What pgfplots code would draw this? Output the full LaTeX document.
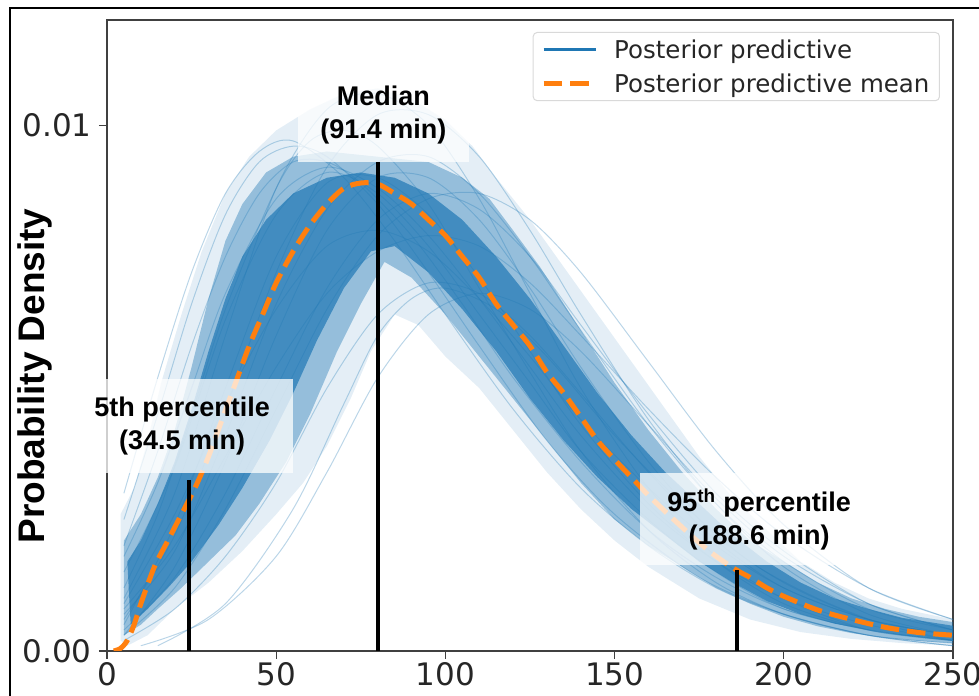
\documentclass[border=0pt]{standalone}
\usepackage{pgfplots}
\pgfplotsset{compat=1.18}
\usepackage{fontspec}
\setmainfont{DejaVu Sans}
\newfontfamily\annfont{Liberation Sans}
\definecolor{c0}{HTML}{1F77B4}
\definecolor{c1}{HTML}{FF7F0E}
\pgfplotsset{pp/.style={c0, opacity=0.3, line width=1bp, smooth, forget plot}}
\tikzset{ann/.style={fill=white, fill opacity=0.75, text opacity=1, inner sep=0pt, align=center,
  font=\annfont\bfseries\fontsize{27bp}{33bp}\selectfont}}
\begin{document}
\begin{tikzpicture}
\useasboundingbox (0,0) rectangle (979bp,696bp);
\draw[line width=2.5bp] (10bp,-10bp) -- (10bp,688bp) -- (995bp,688bp);
\begin{axis}[
  at={(107bp,45bp)}, anchor=south west, scale only axis,
  width=846bp, height=631bp,
  xmin=0, xmax=250, ymin=0, ymax=0.012,
  xtick={0,50,100,150,200,250},
  ytick={0,0.01}, yticklabels={0.00,0.01},
  scaled y ticks=false, scaled x ticks=false,
  xtick pos=left, ytick pos=left,
  tick align=outside, major tick length=8bp,
  tick style={black!75, line width=1.3bp},
  axis line style={black!75, line width=1.5bp},
  ticklabel style={font=\fontsize{31bp}{36bp}\selectfont, text=black!85},
  y tick label style={xshift=-4bp},
  /pgf/number format/assume math mode=true,
  legend style={at={(0.9846,0.981)}, anchor=north east, draw=black!15, rounded corners=4bp,
    fill=white, fill opacity=0.8, text opacity=1, font=\fontsize{24.5bp}{29bp}\selectfont,
    text=black!85, inner xsep=8bp, inner ysep=5bp, row sep=10bp, line width=1bp,
    /tikz/every odd column/.append style={column sep=14bp}},
  legend cell align=left,
  legend image code/.code={\draw[#1] (0bp,0bp) -- (52bp,0bp);},
]
\addlegendimage{c0, line width=2.5bp}
\addlegendentry{Posterior predictive}
% outer faint envelope
\addplot[fill=c0, fill opacity=0.12, draw=none, forget plot] coordinates {
(4,0.0026) (8,0.0031) (12,0.0040) (16,0.0051) (22,0.0064) (28,0.0076) (35,0.0087) (42,0.0094)
(50,0.0099) (60,0.0103) (70,0.0106) (80,0.0107) (90,0.0105) (100,0.0101) (108,0.0096) (115,0.0090)
(125,0.0082) (135,0.0073) (145,0.0064) (155,0.0055) (165,0.0046) (175,0.0037) (185,0.0029)
(195,0.0023) (205,0.0017) (215,0.0013) (225,0.0010) (235,0.0008) (250,0.0006)
(250,0.0001) (235,0.00015) (220,0.00023) (205,0.00036) (190,0.0006) (175,0.0010) (160,0.0016)
(150,0.0021) (140,0.0027) (130,0.0034) (120,0.0042) (110,0.0050) (100,0.0056) (92,0.0062)
(85,0.0064) (78,0.0057) (72,0.0048) (65,0.0039) (58,0.0032) (50,0.0026) (40,0.0019) (30,0.0013)
(20,0.0008) (12,0.0003) (6,0.0001) (4,0.0002)} -- cycle;
% mid envelope
\addplot[fill=c0, fill opacity=0.4, draw=none, forget plot] coordinates {
(5,0.0021) (10,0.0026) (15,0.0033) (20,0.0042) (25,0.0054) (30,0.0067) (35,0.0078) (40,0.0085)
(47,0.0091) (55,0.0094) (65,0.0095) (80,0.0094) (95,0.0093) (105,0.0090) (113,0.0086) (120,0.0080)
(128,0.0073) (135,0.0066) (142,0.0059) (150,0.0051) (160,0.0042) (170,0.0034) (180,0.0027)
(190,0.0021) (200,0.0017) (210,0.0013) (220,0.0010) (230,0.0008) (240,0.00065) (250,0.00055)
(250,0.00015) (240,0.00019) (230,0.00025) (220,0.00034) (210,0.00047) (200,0.00065) (190,0.0009)
(180,0.0012) (170,0.0016) (160,0.0020) (150,0.0025) (140,0.0032) (130,0.0040) (120,0.0048)
(110,0.0056) (100,0.0064) (90,0.0071) (82,0.0074) (75,0.0066) (68,0.0057) (60,0.0045) (53,0.0036)
(45,0.0028) (38,0.0022) (30,0.0017) (22,0.0012) (15,0.0008) (10,0.0005) (5,0.0003)} -- cycle;
% dense core
\addplot[fill=c0, fill opacity=0.7, draw=none, forget plot] coordinates {
(6,0.0017) (10,0.0021) (15,0.0028) (20,0.0036) (25,0.0046) (30,0.0057) (35,0.0067) (40,0.0075)
(47,0.0082) (55,0.0087) (65,0.0090) (75,0.0091) (85,0.0090) (95,0.0087) (105,0.0082) (115,0.0075)
(125,0.0067) (135,0.0058) (145,0.0049) (155,0.0041) (165,0.0034) (175,0.0028) (185,0.0022)
(195,0.0017) (205,0.0013) (215,0.0010) (225,0.0008) (235,0.00063) (250,0.00048)
(250,0.0002) (235,0.0003) (225,0.0004) (215,0.00052) (205,0.0007) (195,0.00095) (185,0.0013)
(175,0.0017) (165,0.0022) (155,0.0027) (145,0.0033) (135,0.0040) (125,0.0048) (115,0.0057)
(105,0.0065) (95,0.0072) (85,0.0077) (78,0.0076) (70,0.0069) (62,0.0059) (55,0.0049) (48,0.0040)
(40,0.0031) (33,0.0024) (25,0.0017) (18,0.0012) (12,0.0008) (7,0.0005)} -- cycle;
% individual posterior predictive curves
\addplot[pp] coordinates {(5,0.0025) (15,0.0045) (25,0.0066) (35,0.0083) (45,0.0093) (55,0.0096) (65,0.0094) (80,0.0085) (95,0.0072) (110,0.0058) (130,0.0040) (150,0.0026) (175,0.0014) (200,0.0007) (225,0.0003) (250,0.00015)};
\addplot[pp] coordinates {(5,0.0002) (20,0.0008) (35,0.0018) (50,0.0032) (65,0.0050) (80,0.0064) (95,0.0070) (110,0.0068) (125,0.0060) (140,0.0049) (160,0.0034) (180,0.0021) (200,0.0012) (225,0.0006) (250,0.0003)};
\addplot[pp] coordinates {(5,0.0010) (20,0.0030) (35,0.0060) (50,0.0088) (65,0.0103) (80,0.0106) (95,0.0100) (110,0.0086) (125,0.0068) (140,0.0050) (160,0.0031) (180,0.0018) (200,0.0010) (225,0.0004) (250,0.0002)};
\addplot[pp] coordinates {(5,0.0008) (20,0.0020) (35,0.0037) (50,0.0054) (65,0.0068) (80,0.0076) (95,0.0079) (110,0.0077) (125,0.0070) (140,0.0060) (160,0.0046) (180,0.0033) (200,0.0022) (225,0.0012) (250,0.0006)};
\addplot[pp] coordinates {(5,0.0005) (20,0.0024) (35,0.0050) (50,0.0075) (65,0.0089) (80,0.0090) (95,0.0083) (110,0.0071) (125,0.0057) (140,0.0043) (160,0.0028) (180,0.0017) (200,0.0009) (225,0.0004) (250,0.0002)};
\addplot[pp] coordinates {(5,0.0003) (20,0.0016) (35,0.0036) (50,0.0060) (65,0.0080) (80,0.0090) (95,0.0090) (110,0.0082) (125,0.0069) (140,0.0054) (160,0.0036) (180,0.0022) (200,0.0013) (225,0.0006) (250,0.0003)};
\addplot[pp] coordinates {(10,0.0001) (30,0.0006) (50,0.0018) (65,0.0034) (80,0.0052) (95,0.0064) (110,0.0068) (125,0.0065) (140,0.0057) (160,0.0043) (180,0.0029) (200,0.0018) (225,0.0009) (250,0.0004)};
\addplot[pp] coordinates {(5,0.0030) (15,0.0052) (25,0.0072) (35,0.0087) (45,0.0095) (55,0.0097) (70,0.0090) (85,0.0078) (100,0.0064) (120,0.0046) (140,0.0031) (160,0.0020) (180,0.0012) (200,0.0007) (225,0.0003) (250,0.0001)};
\addplot[pp] coordinates {(5,0.0006) (20,0.0022) (35,0.0046) (50,0.0072) (65,0.0092) (80,0.0102) (95,0.0102) (110,0.0094) (125,0.0080) (140,0.0064) (160,0.0044) (180,0.0028) (200,0.0016) (225,0.0007) (250,0.0003)};
\addplot[pp] coordinates {(5,0.0015) (20,0.0035) (35,0.0063) (50,0.0083) (65,0.0091) (80,0.0087) (95,0.0077) (110,0.0064) (125,0.0051) (140,0.0038) (160,0.0025) (180,0.0015) (200,0.0008) (225,0.0004) (250,0.0002)};
\addplot[pp] coordinates {(5,0.0020) (15,0.0038) (25,0.0058) (35,0.0075) (45,0.0087) (55,0.0093) (65,0.0093) (75,0.0089) (90,0.0079) (105,0.0066) (120,0.0052) (140,0.0036) (160,0.0023) (180,0.0014) (200,0.0008) (225,0.0004) (250,0.0002)};
\addplot[pp] coordinates {(5,0.0004) (20,0.0014) (35,0.0030) (50,0.0050) (65,0.0069) (80,0.0082) (95,0.0087) (110,0.0084) (125,0.0075) (140,0.0062) (160,0.0045) (180,0.0030) (200,0.0019) (225,0.0009) (250,0.0004)};
\addplot[pp] coordinates {(5,0.0003) (20,0.0012) (35,0.0027) (50,0.0046) (65,0.0065) (80,0.0079) (95,0.0086) (110,0.0087) (125,0.0082) (140,0.0072) (160,0.0055) (180,0.0038) (200,0.0024) (225,0.0012) (250,0.0006)};
\addplot[pp] coordinates {(5,0.0012) (15,0.0026) (25,0.0045) (35,0.0065) (50,0.0088) (60,0.0097) (70,0.0099) (80,0.0096) (95,0.0085) (110,0.0069) (125,0.0053) (140,0.0038) (160,0.0023) (180,0.0013) (200,0.0007) (225,0.0003) (250,0.0001)};
\addplot[pp] coordinates {(5,0.0018) (15,0.0032) (25,0.0050) (35,0.0068) (50,0.0086) (65,0.0092) (80,0.0088) (95,0.0079) (110,0.0067) (125,0.0054) (140,0.0041) (160,0.0027) (180,0.0017) (200,0.0010) (225,0.0005) (250,0.0002)};
\addplot[pp] coordinates {(5,0.0007) (20,0.0019) (35,0.0041) (50,0.0066) (65,0.0084) (80,0.0093) (95,0.0094) (110,0.0087) (125,0.0075) (140,0.0061) (160,0.0043) (180,0.0028) (200,0.0017) (225,0.0008) (250,0.0004)};
\addplot[pp] coordinates {(5,0.0009) (20,0.0026) (35,0.0047) (50,0.0065) (65,0.0077) (80,0.0080) (95,0.0076) (110,0.0067) (125,0.0056) (140,0.0044) (160,0.0031) (180,0.0020) (200,0.0012) (225,0.0006) (250,0.0003)};
\addplot[pp] coordinates {(15,0.0001) (35,0.0009) (55,0.0027) (70,0.0047) (80,0.0060) (90,0.0067) (100,0.0069) (115,0.0065) (130,0.0056) (150,0.0041) (170,0.0028) (190,0.0017) (210,0.0010) (230,0.0005) (250,0.0002)};
% posterior predictive mean
\addplot[c1, line width=5bp, dash pattern=on 18.5bp off 8bp, smooth] coordinates {
(2,0) (4,0.00005) (6,0.0002) (8,0.0005) (10,0.0009) (14,0.0016) (18,0.0021) (22,0.0026)
(26,0.0031) (30,0.0037) (34,0.0044) (38,0.0051) (42,0.0058) (46,0.0064) (50,0.0070) (55,0.0076)
(60,0.0081) (65,0.0085) (70,0.0088) (75,0.0089) (80,0.00888) (85,0.0087) (90,0.0085) (95,0.0082)
(100,0.0079) (105,0.0075) (110,0.0071) (115,0.0066) (120,0.0062) (125,0.0058) (130,0.0053)
(135,0.0049) (140,0.00445) (145,0.0040) (150,0.00364) (155,0.0033) (160,0.00296) (165,0.00265)
(170,0.00235) (175,0.00206) (180,0.0018) (186,0.00154) (190,0.0014) (195,0.0012) (200,0.00104)
(210,0.00078) (220,0.0006) (230,0.00045) (240,0.00035) (250,0.0003)};
\addlegendentry{Posterior predictive mean}
% percentile lines
\addplot[black, line width=3.5bp, forget plot] coordinates {(24.3,0) (24.3,0.00325)};
\addplot[black, line width=3.5bp, forget plot] coordinates {(80.1,0) (80.1,0.0093)};
\addplot[black, line width=3.5bp, forget plot] coordinates {(186.1,0) (186.1,0.00154)};
\coordinate (p5) at (axis cs:22.2,0.00428);
\coordinate (p50) at (axis cs:81.7,0.01019);
\coordinate (p95) at (axis cs:192.7,0.00251);
\end{axis}
\node[ann, minimum width=222bp, minimum height=94bp] at (p5) {5th percentile\\(34.5 min)};
\node[ann, minimum width=171bp, minimum height=94bp] at (p50) {Median\\(91.4 min)};
\node[ann, minimum width=238bp, minimum height=92bp] at (p95) {95\textsuperscript{th} percentile\\(188.6 min)};
\node[rotate=90, font=\annfont\bfseries\fontsize{37bp}{44bp}\selectfont] at (35bp,320bp) {Probability Density};
\end{tikzpicture}
\end{document}
